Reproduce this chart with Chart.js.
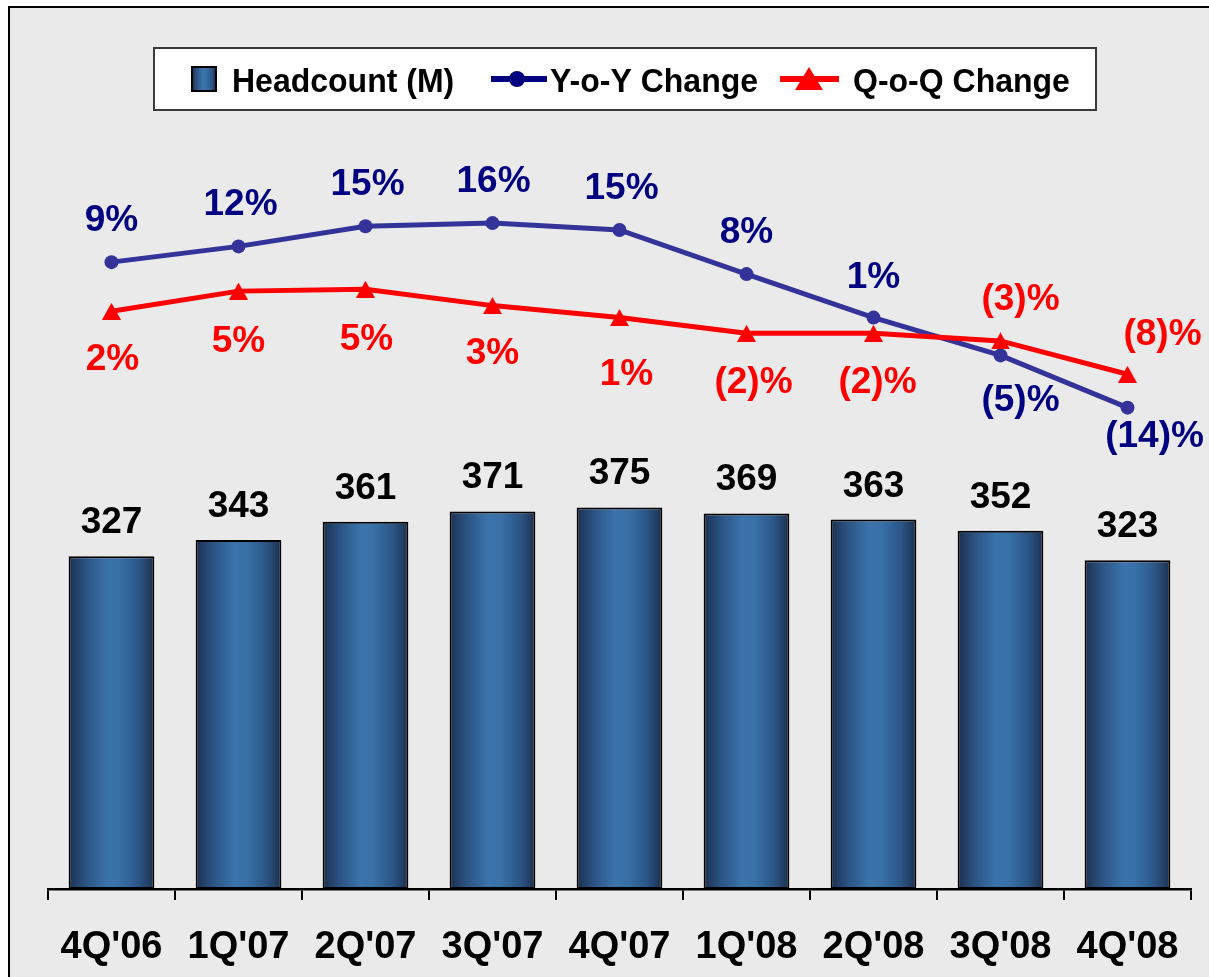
<!DOCTYPE html>
<html><head><meta charset="utf-8">
<script src="https://cdn.jsdelivr.net/npm/chart.js@4.4.1/dist/chart.umd.min.js"></script>
<style>
html,body{margin:0;padding:0;background:#fff;overflow:hidden;}
#frame{position:absolute;left:8px;top:6px;width:1400px;height:1200px;border:2.5px solid #000;background:#eaeaea;box-sizing:border-box;}
#wrap{position:absolute;left:0;top:0;width:1209px;height:977px;}
</style></head><body>
<div id="frame"></div>
<div id="wrap"><canvas id="c"></canvas></div>
<script>
// ---- data ----
const categories = ["4Q'06","1Q'07","2Q'07","3Q'07","4Q'07","1Q'08","2Q'08","3Q'08","4Q'08"];
const headcount = [327, 343, 361, 371, 375, 369, 363, 352, 323];
const yoyChange = [9.4, 11.9, 15.1, 15.6, 14.5, 7.5, 0.6, -5.4, -13.7];
const qoqChange = [1.6, 4.8, 5.1, 2.5, 0.6, -1.9, -1.9, -3.1, -8.4];
const yoyLabels = ['9%','12%','15%','16%','15%','8%','1%','(5)%','(14)%'];
const qoqLabels = ['2%','5%','5%','3%','1%','(2)%','(2)%','(3)%','(8)%'];

// ---- label placement (style) ----
const yoyLabelOffset = [[0,-31],[2,-31],[2,-31],[1,-31],[2,-31],[0,-31],[0,-30],[20,56],[27,39]];
const qoqLabelOffset = [[1,59],[0,61],[1,61],[0,58],[7,67],[7,60],[4,60],[20,-31],[35,-29]];

const FONT = '"Liberation Sans", Arial, Helvetica, sans-serif';
const NAVY_LINE = '#333399';
const NAVY_TEXT = '#000080';
const RED = '#ff0000';

function barGradient(ctx, x0, x1){
  const g = ctx.createLinearGradient(x0, 0, x1, 0);
  g.addColorStop(0, '#1c3050');
  g.addColorStop(0.2, '#2b5383');
  g.addColorStop(0.45, '#3b74ac');
  g.addColorStop(0.6, '#3870a7');
  g.addColorStop(0.82, '#2b5686');
  g.addColorStop(1, '#1c304e');
  return g;
}
function triCanvas(w, h, color){
  const c = document.createElement('canvas'); c.width = w; c.height = h;
  const g = c.getContext('2d'); g.fillStyle = color;
  g.beginPath(); g.moveTo(w/2, 0); g.lineTo(w, h); g.lineTo(0, h); g.closePath(); g.fill();
  return c;
}

const labelPlugin = {
  id: 'valueLabels',
  afterDatasetsDraw(chart){
    const ctx = chart.ctx;
    ctx.save();
    ctx.font = 'bold 37px ' + FONT;
    ctx.textAlign = 'center';
    ctx.textBaseline = 'alphabetic';
    ctx.fillStyle = '#000';
    chart.getDatasetMeta(0).data.forEach((el, i) => {
      ctx.fillText(String(headcount[i]), el.x, el.y - 23);
    });
    ctx.fillStyle = NAVY_TEXT;
    chart.getDatasetMeta(1).data.forEach((el, i) => {
      const o = yoyLabelOffset[i];
      ctx.fillText(yoyLabels[i], el.x + o[0], el.y + o[1]);
    });
    ctx.fillStyle = RED;
    chart.getDatasetMeta(2).data.forEach((el, i) => {
      const o = qoqLabelOffset[i];
      ctx.fillText(qoqLabels[i], el.x + o[0], el.y + o[1]);
    });
    ctx.restore();
  }
};

const legendPlugin = {
  id: 'boxLegend',
  afterDraw(chart){
    const ctx = chart.ctx;
    const ds = chart.data.datasets;
    ctx.save();
    ctx.fillStyle = '#fff';
    ctx.fillRect(154, 48, 942, 62);
    ctx.strokeStyle = '#3a3a3a'; ctx.lineWidth = 2;
    ctx.strokeRect(154, 48, 942, 62);
    // bar icon
    ctx.fillStyle = barGradient(ctx, 192, 216);
    ctx.fillRect(192, 67, 24, 24);
    ctx.strokeStyle = '#000'; ctx.lineWidth = 2;
    ctx.strokeRect(192, 67, 24, 24);
    // yoy icon
    ctx.strokeStyle = NAVY_TEXT; ctx.lineWidth = 6;
    ctx.beginPath(); ctx.moveTo(491, 79); ctx.lineTo(547, 79); ctx.stroke();
    ctx.fillStyle = NAVY_TEXT;
    ctx.beginPath(); ctx.arc(517, 79, 8, 0, Math.PI*2); ctx.fill();
    // qoq icon
    ctx.strokeStyle = RED;
    ctx.beginPath(); ctx.moveTo(780, 79); ctx.lineTo(839, 79); ctx.stroke();
    ctx.fillStyle = RED;
    ctx.beginPath(); ctx.moveTo(809, 67); ctx.lineTo(823, 90); ctx.lineTo(795, 90); ctx.closePath(); ctx.fill();
    // texts
    ctx.fillStyle = '#000';
    ctx.font = 'bold 32px ' + FONT;
    ctx.textAlign = 'left'; ctx.textBaseline = 'alphabetic';
    const texts = [[ds[0].label, 232], [ds[1].label, 550], [ds[2].label, 853]];
    texts.forEach(([t, x]) => {
      ctx.save(); ctx.translate(x, 92); ctx.scale(1, 1.06); ctx.fillText(t, 0, 0); ctx.restore();
    });
    ctx.restore();
  }
};

new Chart(document.getElementById('c'), {
  data: {
    labels: categories,
    datasets: [
      {
        type: 'bar', label: 'Headcount (M)', data: headcount, yAxisID: 'y', order: 3,
        backgroundColor: (c) => {
          const chart = c.chart;
          if (!chart.chartArea || !chart.scales.x) return '#3a72aa';
          const xs = chart.scales.x;
          const cx = xs.getPixelForValue(c.dataIndex);
          const hw = xs.width / categories.length * 0.675 / 2;
          return barGradient(chart.ctx, cx - hw, cx + hw);
        },
        borderColor: '#000', borderWidth: 2, borderSkipped: false,
        categoryPercentage: 1.0, barPercentage: 0.675
      },
      {
        type: 'line', label: 'Y-o-Y Change', data: yoyChange, yAxisID: 'y2', order: 2,
        borderColor: NAVY_LINE, borderWidth: 5, tension: 0,
        pointStyle: 'circle', pointRadius: 7, pointBackgroundColor: NAVY_LINE, pointBorderWidth: 0,
        clip: false
      },
      {
        type: 'line', label: 'Q-o-Q Change', data: qoqChange, yAxisID: 'y2', order: 1,
        borderColor: RED, borderWidth: 5, tension: 0,
        pointStyle: triCanvas(19, 17, RED), pointRadius: 9, pointBorderWidth: 0,
        clip: false
      }
    ]
  },
  options: {
    responsive: true, maintainAspectRatio: false, animation: false,
    layout: { padding: { left: 48, right: 18, top: 24, bottom: 0 } },
    plugins: { legend: { display: false }, tooltip: { enabled: false } },
    scales: {
      x: {
        type: 'category', offset: true,
        afterFit: (scale) => { scale.height = 88; },
        grid: { display: true, drawOnChartArea: false, drawTicks: true, tickLength: 11, color: '#000', lineWidth: 2, offset: true },
        border: { display: true, color: '#000', width: 2.5 },
        ticks: { color: '#000', font: { family: FONT, size: 38, weight: 'bold' }, padding: 25, maxRotation: 0, autoSkip: false }
      },
      y: { display: false, min: 0, max: 850 },
      y2: { display: false, min: -90.1, max: 47.2 }
    }
  },
  plugins: [labelPlugin, legendPlugin]
});
</script>
</body></html>
